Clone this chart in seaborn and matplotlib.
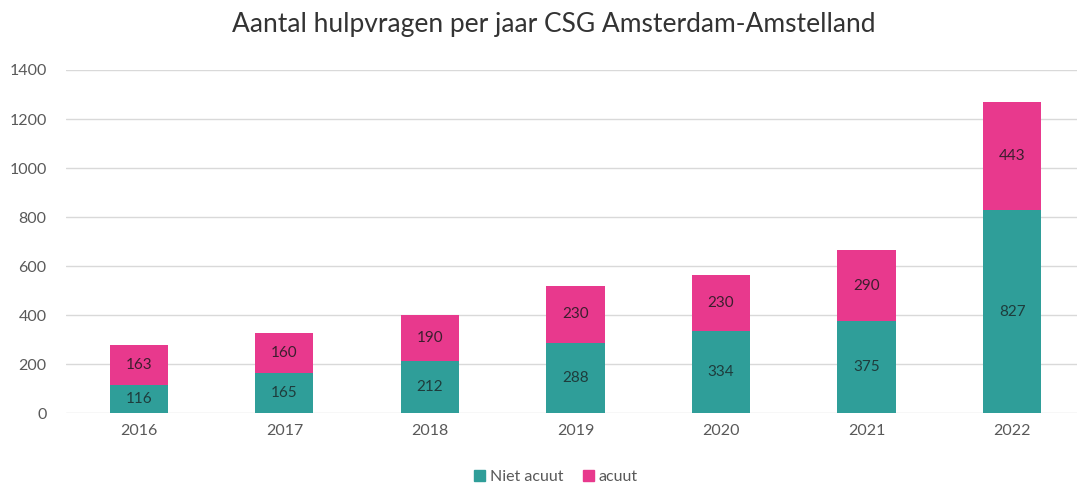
import matplotlib
matplotlib.use("Agg")
import matplotlib.pyplot as plt
import pandas as pd
import seaborn as sns
from matplotlib.patches import Patch

# data
jaren = ["2016", "2017", "2018", "2019", "2020", "2021", "2022"]
niet_acuut = [116, 165, 212, 288, 334, 375, 827]
acuut = [163, 160, 190, 230, 230, 290, 443]

teal = "#2F9E99"
pink = "#E8398D"

df = pd.DataFrame({"jaar": jaren, "niet_acuut": niet_acuut, "acuut": acuut})
df["totaal"] = df["niet_acuut"] + df["acuut"]

sns.set_theme(style="white")
plt.rcParams["font.family"] = ["Lato", "DejaVu Sans"]

fig = plt.figure(figsize=(10.77, 4.86), dpi=100)
ax = fig.add_axes([0.0613, 0.150, 0.946, 0.706])

# gestapelde staven: totaal (roze) eronder, niet acuut (teal) eroverheen
sns.barplot(data=df, x="jaar", y="totaal", color=pink, width=0.40,
            saturation=1, ax=ax, zorder=2, linewidth=0, edgecolor="none")
sns.barplot(data=df, x="jaar", y="niet_acuut", color=teal, width=0.40,
            saturation=1, ax=ax, zorder=3, linewidth=0, edgecolor="none")

# waarden in de staven
for i, row in df.iterrows():
    ax.text(i, row["niet_acuut"] / 2, str(row["niet_acuut"]), ha="center",
            va="center", fontsize=11, color="#1e3c3c", zorder=4)
    ax.text(i, row["niet_acuut"] + row["acuut"] / 2, str(row["acuut"]),
            ha="center", va="center", fontsize=11, color="#3c1e2e", zorder=4)

ax.set_xlim(-0.5, 6.5)
ax.set_ylim(0, 1400)
ax.set_yticks(range(0, 1401, 200))
ax.yaxis.grid(True, color="#D9D9D9", linewidth=1)
ax.set_axisbelow(True)
for s in ax.spines.values():
    s.set_visible(False)
ax.tick_params(axis="both", length=0, labelsize=11.5, colors="#595959")
ax.tick_params(axis="y", pad=14)
ax.tick_params(axis="x", pad=8)
ax.set_xlabel("")
ax.set_ylabel("")

fig.suptitle("Aantal hulpvragen per jaar CSG Amsterdam-Amstelland",
             fontsize=19, color="#333333", y=0.975, x=0.514)

handles = [Patch(color=teal, label="Niet acuut"), Patch(color=pink, label="acuut")]
fig.legend(handles=handles, loc="center", bbox_to_anchor=(0.516, 0.018),
           ncol=2, frameon=False, fontsize=11.5, handlelength=0.7,
           handleheight=0.7, handletextpad=0.3, columnspacing=1.2,
           labelcolor="#595959")

fig.savefig("out.png", dpi=100)
